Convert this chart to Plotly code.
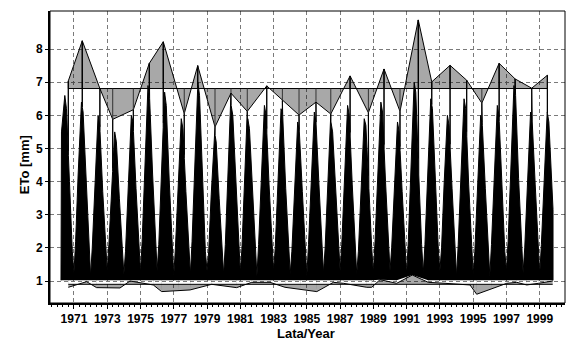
import numpy as np
import plotly.graph_objects as go

# ---------------- data ----------------
YEARS = list(range(1970, 2000))

# annual maxima of daily ETo (time of occurrence, value)
MAX_T = [1970.66, 1971.50, 1972.56, 1973.33, 1974.57, 1975.53, 1976.37, 1977.63, 1978.44, 1979.48,
         1980.44, 1981.42, 1982.59, 1983.53, 1984.53, 1985.55, 1986.44, 1987.60, 1988.70, 1989.64,
         1990.60, 1991.70, 1992.51, 1993.61, 1994.61, 1995.52, 1996.56, 1997.52, 1998.52, 1999.46]
MAX_V = [7.04, 8.25, 6.81, 5.88, 6.17, 7.57, 8.22, 6.05, 7.50, 5.65,
         6.67, 6.12, 6.89, 6.45, 6.01, 6.40, 6.04, 7.19, 6.08, 7.40,
         6.12, 8.88, 7.01, 7.51, 7.06, 6.37, 7.57, 7.10, 6.82, 7.21]
MEAN_MAX = 6.81

# annual minima of daily ETo
MIN_T = [1970.66, 1971.76, 1972.36, 1973.77, 1974.37, 1975.77, 1976.27, 1977.30, 1977.98, 1979.28,
         1980.78, 1981.69, 1982.79, 1983.69, 1984.60, 1985.60, 1986.60, 1987.20, 1988.60, 1988.90,
         1989.40, 1990.40, 1991.34, 1992.30, 1993.31, 1994.81, 1995.21, 1996.10, 1997.02, 1997.62,
         1998.22, 1998.92, 1999.78]
MIN_V = [0.81, 0.98, 0.80, 0.79, 1.00, 0.88, 0.68, 0.70, 0.73, 0.90,
         0.80, 0.96, 0.96, 0.81, 0.75, 0.68, 0.96, 0.93, 0.81, 0.81,
         1.04, 0.93, 1.18, 0.96, 0.93, 0.88, 0.60, 0.77, 0.93, 0.96,
         0.88, 0.93, 1.00]
MEAN_MIN = 0.90

# outline of the daily series, read per year at fixed times of the year
SEASON_POS = [0.00, 0.10, 0.25, 0.45, 0.55, 0.73, 0.90]
WINTER = [1.2, 1.25, 1.15, 1.3, 1.2, 1.25, 1.3, 1.15, 1.2, 1.3, 1.2, 1.25, 1.15, 1.3, 1.2, 1.15,
          1.25, 1.3, 1.2, 1.25, 1.3, 1.2, 1.25, 1.3, 1.15, 1.2, 1.15, 1.3, 1.25, 1.2]
LATE_WINTER = [2.2, 2.2, 2.0, 2.1, 1.9, 2.2, 2.1, 2.0, 2.2, 1.9, 2.1, 2.0, 2.1, 2.0, 1.9, 2.1,
               2.0, 2.1, 1.9, 2.2, 2.0, 2.2, 2.1, 2.0, 2.1, 1.9, 2.1, 2.2, 2.0, 2.1]
SPRING = [5.5, 4.2, 3.8, 3.6, 3.9, 4.3, 4.2, 3.8, 4.2, 3.6, 4.0, 3.8, 4.0, 3.9, 3.8,
          4.0, 3.8, 4.0, 3.8, 4.1, 3.8, 4.3, 4.1, 3.9, 4.0, 3.9, 4.0, 4.2, 4.0, 4.0]
SUMMER_A = [6.6, 6.4, 6.0, 5.5, 6.0, 6.9, 6.7, 5.9, 7.0, 5.5, 6.3, 5.9, 6.3, 6.2, 5.8,
            6.1, 5.8, 6.3, 5.9, 6.4, 5.8, 7.0, 6.5, 6.0, 6.5, 6.0, 6.3, 6.9, 6.1, 6.1]
SUMMER_B = [6.2, 6.1, 5.7, 5.2, 5.8, 6.5, 6.3, 5.6, 6.6, 5.2, 6.0, 5.6, 6.0, 6.0, 5.5,
            5.8, 5.5, 6.0, 5.7, 6.1, 5.5, 6.7, 6.2, 5.7, 6.2, 5.7, 6.0, 6.6, 5.8, 5.8]
AUTUMN = [4.0, 4.0, 3.7, 3.5, 3.8, 4.2, 4.0, 3.7, 4.1, 3.5, 3.9, 3.7, 3.9, 3.8, 3.7,
          3.9, 3.7, 3.9, 3.8, 4.0, 3.7, 4.2, 4.0, 3.8, 3.9, 3.8, 3.9, 4.1, 3.9, 3.9]
EARLY_WINTER = [1.9, 2.1, 2.0, 2.1, 1.9, 2.1, 2.0, 2.1, 1.9, 2.0, 2.1, 1.9, 2.0, 2.1, 1.9,
                2.0, 2.1, 1.9, 2.0, 2.1, 1.9, 2.1, 2.0, 1.9, 2.1, 2.0, 1.9, 2.1, 2.0, 2.1]
DATA_START = 1970.22
DATA_END = 1999.80
LOW_EDGE = 1.02

X_TICKS = list(range(1971, 2000, 2))
Y_TICKS = [1, 2, 3, 4, 5, 6, 7, 8]

# ---------------- build the daily-series outline ----------------
pts = []
for i, yr in enumerate(YEARS):
    vals = [WINTER[i], LATE_WINTER[i], SPRING[i], SUMMER_A[i], SUMMER_B[i], AUTUMN[i], EARLY_WINTER[i]]
    for f, v in zip(SEASON_POS, vals):
        pts.append((yr + f, v))
pts.sort()
bx = np.array([p[0] for p in pts])
by = np.array([p[1] for p in pts])

spk = []
for t, v in zip(MAX_T, MAX_V):
    spk.append((t - 0.006, float(np.interp(t - 0.006, bx, by))))
    spk.append((t, v))
    spk.append((t + 0.006, float(np.interp(t + 0.006, bx, by))))
allp = sorted(pts + spk)
ux = [DATA_START, DATA_START]
uy = [LOW_EDGE, float(np.interp(DATA_START, bx, by))]
for x, y in allp:
    if DATA_START < x < DATA_END:
        ux.append(x)
        uy.append(y)
ux += [DATA_END, DATA_END]
uy += [float(np.interp(DATA_END, bx, by)), LOW_EDGE]

lx = [DATA_START]
ly = [LOW_EDGE]
for t, v in zip(MIN_T, MIN_V):
    if DATA_START <= t <= DATA_END:
        lx += [t - 0.004, t, t + 0.004]
        ly += [max(LOW_EDGE, v), v, max(LOW_EDGE, v)]
lx.append(DATA_END)
ly.append(LOW_EDGE)

FONT = "Liberation Sans Narrow, Arial Narrow, Liberation Sans, Arial, sans-serif"
GRAYFILL = "rgba(0,0,0,0.34)"

fig = go.Figure()
# upper envelope (annual maxima) vs their mean
fig.add_trace(go.Scatter(x=[MAX_T[0], MAX_T[-1]], y=[MEAN_MAX, MEAN_MAX], mode="lines",
                         line=dict(color="black", width=1), hoverinfo="skip"))
fig.add_trace(go.Scatter(x=MAX_T, y=MAX_V, mode="lines", fill="tonexty", fillcolor=GRAYFILL,
                         line=dict(color="black", width=1)))
# lower envelope (annual minima) vs their mean
fig.add_trace(go.Scatter(x=[MIN_T[0], MIN_T[-1]], y=[MEAN_MIN, MEAN_MIN], mode="lines",
                         line=dict(color="black", width=1), hoverinfo="skip"))
fig.add_trace(go.Scatter(x=MIN_T, y=MIN_V, mode="lines", fill="tonexty", fillcolor=GRAYFILL,
                         line=dict(color="black", width=1)))
# drop lines from mean to each maximum
vx, vy = [], []
for t, v in zip(MAX_T, MAX_V):
    vx += [t, t, None]
    vy += [MEAN_MAX, v, None]
fig.add_trace(go.Scatter(x=vx, y=vy, mode="lines", line=dict(color="#333333", width=1)))
# daily ETo (black mass)
fig.add_trace(go.Scatter(x=lx, y=ly, mode="lines", line=dict(color="black", width=0)))
fig.add_trace(go.Scatter(x=ux, y=uy, mode="lines", fill="tonexty", fillcolor="black",
                         line=dict(color="black", width=1)))

fig.update_layout(
    width=580, height=352,
    margin=dict(l=50, r=15, t=11, b=49),
    paper_bgcolor="white", plot_bgcolor="white",
    showlegend=False,
    font=dict(family=FONT, color="black"),
    xaxis=dict(range=[1969.56, 2000.52], tickmode="array", tickvals=X_TICKS,
               ticktext=[str(v) for v in X_TICKS],
               tickfont=dict(family=FONT, size=12, weight="bold", color="black"),
               showgrid=True, gridcolor="#7a7a7a", griddash="4px,3px", gridwidth=1,
               showline=True, linecolor="black", linewidth=2,
               ticks="outside", ticklen=4, tickcolor="black",
               minor=dict(tickmode="linear", tick0=1970, dtick=1/3, ticks="outside",
                          ticklen=2, tickcolor="black", showgrid=False),
               zeroline=False),
    yaxis=dict(range=[0.336, 9.15], tickmode="array", tickvals=Y_TICKS,
               ticktext=[str(v) for v in Y_TICKS],
               tickfont=dict(family=FONT, size=12, weight="bold", color="black"),
               showgrid=True, gridcolor="#7a7a7a", griddash="4px,3px", gridwidth=1,
               showline=True, linecolor="black", linewidth=2,
               ticks="outside", ticklen=3, tickcolor="black",
               zeroline=False),
    shapes=[dict(type="rect", xref="paper", yref="paper", x0=0, x1=1, y0=0, y1=1,
                 line=dict(color="black", width=1), layer="above")],
    annotations=[
        dict(text="ETo [mm]", xref="paper", yref="paper", x=-0.048, y=0.473,
             textangle=-90, showarrow=False, xanchor="center", yanchor="middle",
             font=dict(family=FONT, size=13, weight="bold", color="black")),
        dict(text="Lata/Year", xref="paper", yref="paper", x=0.497, y=-0.106,
             showarrow=False, xanchor="center", yanchor="middle",
             font=dict(family=FONT, size=13, weight="bold", color="black")),
    ],
)

fig.write_html("out.html")
